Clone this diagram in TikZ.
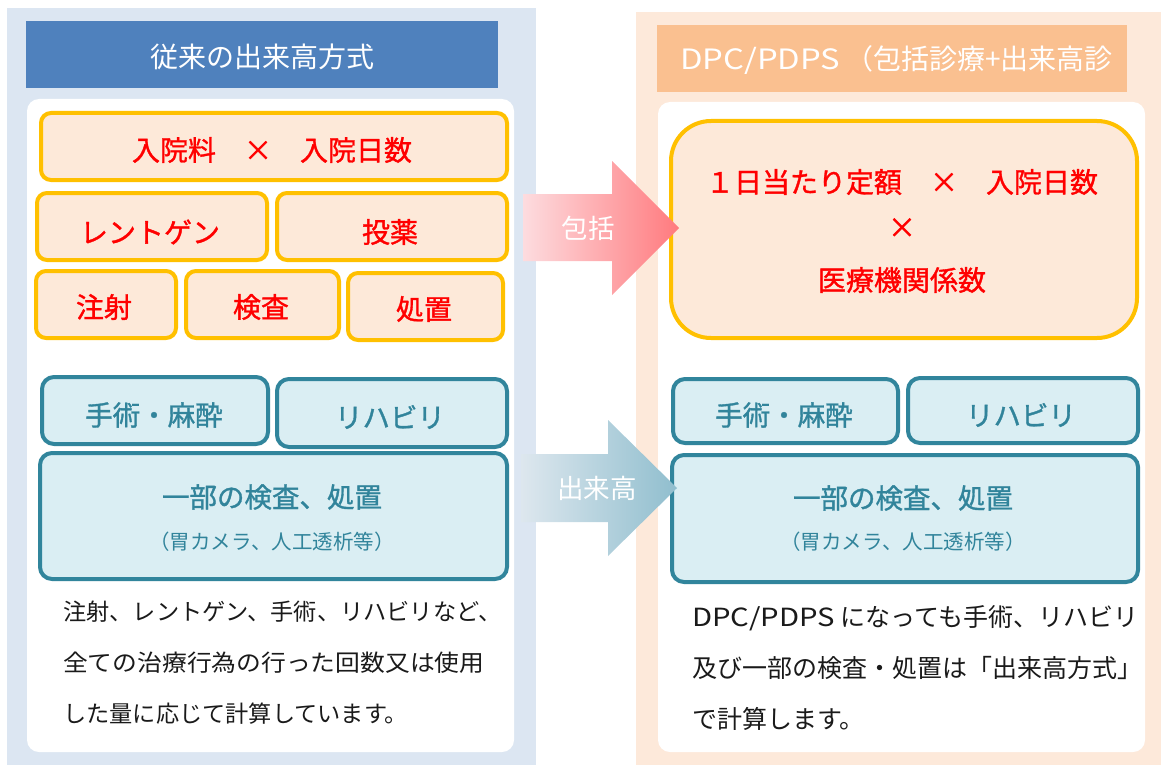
\documentclass[tikz,border=0pt]{standalone}
\usepackage{fontspec}
\setmainfont{Noto Sans CJK JP}
\newfontfamily\jpmed[FakeBold=1.2]{Noto Sans CJK JP}
\usetikzlibrary{positioning}
\definecolor{lbg}{HTML}{DCE6F2}
\definecolor{ltitle}{HTML}{4F81BD}
\definecolor{rbg}{HTML}{FDE9DA}
\definecolor{rtitle}{HTML}{FAC090}
\definecolor{yb}{HTML}{FFC000}
\definecolor{yf}{HTML}{FDE9D9}
\definecolor{tb}{HTML}{31859C}
\definecolor{tf}{HTML}{DAEEF3}
\definecolor{tt}{HTML}{31849B}
\definecolor{pinkL}{HTML}{FDDCDF}
\definecolor{pinkR}{HTML}{FF7A7E}
\definecolor{blueL}{HTML}{DDE7EE}
\definecolor{blueR}{HTML}{90BECE}
\definecolor{txt}{HTML}{1A1A1A}
\newcommand{\wlat}[1]{\scalebox{1.17}[1]{#1}}
\tikzset{
  ybox/.style={draw=yb, fill=yf, line width=4pt, rounded corners=10pt, anchor=north west, inner sep=0pt},
  tbox/.style={draw=tb, fill=tf, line width=4pt, rounded corners=12pt, anchor=north west, inner sep=0pt},
  redtxt/.style={text=red, font=\jpmed\fontsize{28}{30}\selectfont, inner sep=0pt},
  tealtxt/.style={text=tt, font=\jpmed\fontsize{27.5}{30}\selectfont, inner sep=0pt},
  tealsmall/.style={text=tt, font=\fontsize{20.5}{24}\selectfont, inner sep=0pt},
  titletxt/.style={text=white, font=\fontsize{28}{30}\selectfont, inner sep=0pt},
  arrowtxt/.style={text=white, font=\fontsize{26.5}{30}\selectfont, inner sep=0pt},
  bodytxt/.style={text=txt, align=left, inner sep=0pt, anchor=north west},
}
\begin{document}
\begin{tikzpicture}[x=1pt,y=-1pt]
\useasboundingbox (0,0) rectangle (1161,765);
% ---------- left panel ----------
\fill[lbg] (7,8) rectangle (536,765);
\fill[ltitle] (26,21) rectangle (498,88);
\node[titletxt] (ltitleT) at (262,57) {従来の出来高方式};
\fill[white, rounded corners=12pt] (27,99) rectangle (514,752);
% yellow boxes
\node[ybox, minimum width=466pt, minimum height=67pt] (l1) at (39,111) {};
\node[ybox, minimum width=230pt, minimum height=67pt] (l2) at (35,191) {};
\node[ybox, minimum width=230pt, minimum height=67pt] (l3) at (275,191) {};
\node[ybox, minimum width=140pt, minimum height=67pt] (l4) at (34,269) {};
\node[ybox, minimum width=153pt, minimum height=67pt] (l5) at (184,269) {};
\node[ybox, minimum width=155pt, minimum height=67pt] (l6) at (346,271) {};
\node[redtxt] (l1t) at (272,150) {入院料　×　入院日数};
\node[redtxt] (l2t) at (150,232) {レントゲン};
\node[redtxt] (l3t) at (390,232) {投薬};
\node[redtxt] (l4t) at (104,307) {注射};
\node[redtxt] (l5t) at (261,307) {検査};
\node[redtxt] (l6t) at (424,309) {処置};
% teal boxes
\node[tbox, minimum width=226pt, minimum height=67pt] (l7) at (40,375) {};
\node[tbox, minimum width=230pt, minimum height=68pt] (l8) at (275,377) {};
\node[tbox, minimum width=467pt, minimum height=126pt] (l9) at (38,451) {};
\node[tealtxt] (l7t) at (154,415) {手術・麻酔};
\node[tealtxt] (l8t) at (390,417) {リハビリ};
\node[tealtxt] (l9t) at (272,497) {一部の検査、処置};
\node[tealsmall] (l9s) at (272,542) {（胃カメラ、人工透析等）};
\node[bodytxt, font=\fontsize{23.2}{51}\selectfont] (lbody) at (63,601) {注射、レントゲン、手術、リハビリなど、\\\scalebox{1.068}[1]{全ての治療行為の行った回数又は使用}\\した量に応じて計算しています。};
% ---------- right panel ----------
\fill[rbg] (636,12) rectangle (1161,765);
\fill[rtitle] (657,25) rectangle (1127,92);
\node[titletxt, anchor=west] (rtitleT) at (680,60) {\wlat{DPC/PDPS}\hspace{5pt}（包括診療+出来高診};
\fill[white, rounded corners=12pt] (658,102) rectangle (1145,752);
\node[ybox, rounded corners=40pt, minimum width=466pt, minimum height=217pt] (r1) at (669,119) {};
\node[redtxt] (r1a) at (902,182) {１日当たり定額　×　入院日数};
\node[redtxt] (r1b) at (902,228) {×};
\node[redtxt] (r1c) at (902,280) {医療機関係数};
\node[tbox, minimum width=225pt, minimum height=64pt] (r7) at (671,377) {};
\node[tbox, minimum width=230pt, minimum height=65pt] (r8) at (906,376) {};
\node[tbox, minimum width=466pt, minimum height=127pt] (r9) at (670,453) {};
\node[tealtxt] (r7t) at (784,415) {手術・麻酔};
\node[tealtxt] (r8t) at (1021,415) {リハビリ};
\node[tealtxt] (r9t) at (903,498) {一部の検査、処置};
\node[tealsmall] (r9s) at (903,542) {（胃カメラ、人工透析等）};
\node[bodytxt, font=\fontsize{25}{51}\selectfont] (rbody) at (692,605) {\wlat{DPC/PDPS} になっても手術、リハビリ\\及び一部の検査・処置は「出来高方式」\\で計算します。};
% ---------- arrows ----------
\shade[left color=pinkL, right color=pinkR] (523,194) -- (612,194) -- (612,161) -- (679,228) -- (612,295) -- (612,261) -- (523,261) -- cycle;
\node[arrowtxt] (a1t) at (588,228) {包括};
\shade[left color=blueL, right color=blueR] (521,454) -- (608,454) -- (608,420) -- (677,488) -- (608,556) -- (608,522) -- (521,522) -- cycle;
\node[arrowtxt] (a2t) at (597,488) {出来高};
\end{tikzpicture}
\end{document}
